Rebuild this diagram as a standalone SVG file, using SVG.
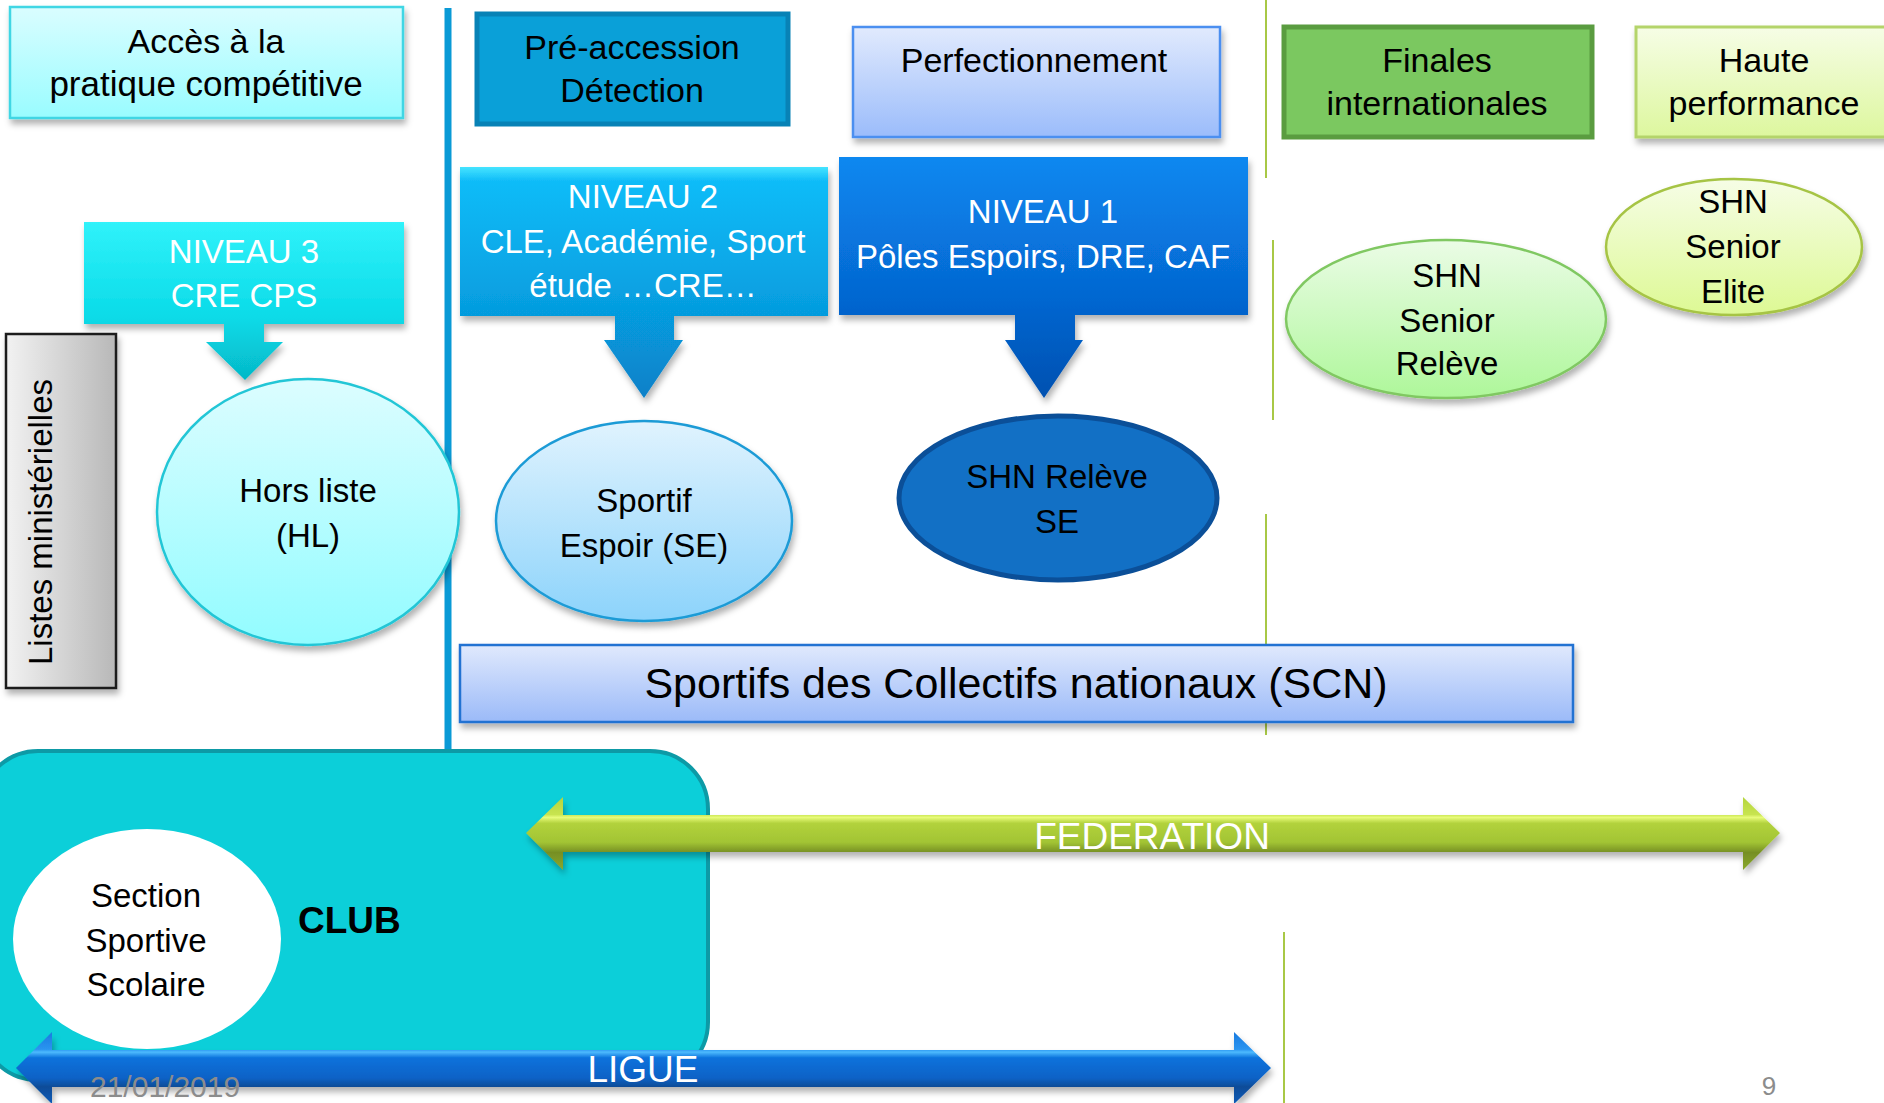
<svg xmlns="http://www.w3.org/2000/svg" width="1884" height="1103" viewBox="0 0 1884 1103">
<defs>
  <filter id="sh" x="-10%" y="-10%" width="120%" height="130%">
    <feDropShadow dx="2" dy="5" stdDeviation="3" flood-color="#000" flood-opacity="0.3"/>
  </filter>
  <linearGradient id="gAcces" x1="0" y1="0" x2="0" y2="1"><stop offset="0" stop-color="#dafdff"/><stop offset="1" stop-color="#99fcff"/></linearGradient>
  <linearGradient id="gPerf" x1="0" y1="0" x2="0" y2="1"><stop offset="0" stop-color="#e1eafd"/><stop offset="1" stop-color="#9bbcfb"/></linearGradient>
  <linearGradient id="gHaute" x1="0" y1="0" x2="0" y2="1"><stop offset="0" stop-color="#f6fde6"/><stop offset="1" stop-color="#ddf79e"/></linearGradient>
  <linearGradient id="gListes" x1="0" y1="0" x2="1" y2="0"><stop offset="0" stop-color="#f2f2f2"/><stop offset="1" stop-color="#b8b8b8"/></linearGradient>
  <linearGradient id="gHL" x1="0" y1="0" x2="0" y2="1"><stop offset="0" stop-color="#dcfdff"/><stop offset="1" stop-color="#92fcff"/></linearGradient>
  <linearGradient id="gSE" x1="0" y1="0" x2="0" y2="1"><stop offset="0" stop-color="#e0f3fe"/><stop offset="1" stop-color="#8cd3fb"/></linearGradient>
  <linearGradient id="gSCN" x1="0" y1="0" x2="0" y2="1"><stop offset="0" stop-color="#e0e9fd"/><stop offset="1" stop-color="#9bbaf8"/></linearGradient>
  <linearGradient id="gSSR" x1="0" y1="0" x2="0" y2="1"><stop offset="0" stop-color="#ebfce6"/><stop offset="1" stop-color="#aef79a"/></linearGradient>
  <linearGradient id="gSSE" x1="0" y1="0" x2="0" y2="1"><stop offset="0" stop-color="#f6fde6"/><stop offset="1" stop-color="#ddf994"/></linearGradient>
  <linearGradient id="gN3" x1="0" y1="0" x2="0" y2="1"><stop offset="0" stop-color="#30f2fa"/><stop offset="0.6" stop-color="#0adbe8"/><stop offset="1" stop-color="#05b8c8"/></linearGradient>
  <linearGradient id="gN2" x1="0" y1="0" x2="0" y2="1"><stop offset="0" stop-color="#45e4ff"/><stop offset="0.06" stop-color="#10bcf8"/><stop offset="0.6" stop-color="#069ee0"/><stop offset="1" stop-color="#0880c8"/></linearGradient>
  <linearGradient id="gN1" x1="0" y1="0" x2="0" y2="1"><stop offset="0" stop-color="#0a88f0"/><stop offset="0.6" stop-color="#0566d0"/><stop offset="1" stop-color="#0550b0"/></linearGradient>
  <linearGradient id="gFed" gradientUnits="userSpaceOnUse" x1="0" y1="797" x2="0" y2="870">
    <stop offset="0" stop-color="#b4d43e"/><stop offset="0.24" stop-color="#c8e450"/><stop offset="0.28" stop-color="#e8fb7a"/><stop offset="0.36" stop-color="#b2d23c"/><stop offset="0.62" stop-color="#a2c434"/><stop offset="0.76" stop-color="#768f24"/><stop offset="1" stop-color="#8aa82c"/>
  </linearGradient>
  <linearGradient id="gLig" gradientUnits="userSpaceOnUse" x1="0" y1="1032" x2="0" y2="1104">
    <stop offset="0" stop-color="#1a7ae0"/><stop offset="0.24" stop-color="#2a94f0"/><stop offset="0.28" stop-color="#4cbafe"/><stop offset="0.36" stop-color="#0c72dc"/><stop offset="0.64" stop-color="#0a62c6"/><stop offset="0.76" stop-color="#0c4c98"/><stop offset="1" stop-color="#0a5ab8"/>
  </linearGradient>
</defs>
<style>
  text { font-family: "Liberation Sans", Arial, sans-serif; font-size: 33px; fill: #000; text-anchor: middle; }
  .w { fill: #ffffff; }
  .hdr { font-size: 34px; }
  .sep { stroke: #a8c846; stroke-width: 2; fill: none; }
</style>

<g id="separators">
  <line x1="448" y1="8" x2="448" y2="752" stroke="#0a9ad6" stroke-width="7"/>
  <line class="sep" x1="1266" y1="0" x2="1266" y2="178"/>
  <line class="sep" x1="1273" y1="240" x2="1273" y2="420"/>
  <line class="sep" x1="1266" y1="514" x2="1266" y2="735"/>
  <line class="sep" x1="1284" y1="932" x2="1284" y2="1103"/>
</g>

<g id="acces">
  <rect x="10" y="7" width="393" height="111" fill="url(#gAcces)" stroke="#3fd6e4" stroke-width="2.5" filter="url(#sh)"/>
  <text class="hdr" x="206" y="53">Accès à la</text>
  <text class="hdr" x="206" y="96" style="font-size:35px">pratique compétitive</text>
</g>

<g id="preaccession">
  <rect x="477" y="14" width="311" height="110" fill="#0aa0d8" stroke="#0882b6" stroke-width="5"/>
  <text class="hdr" x="632" y="59">Pré-accession</text>
  <text class="hdr" x="632" y="102">Détection</text>
</g>

<g id="perfectionnement">
  <rect x="853" y="27" width="367" height="110" fill="url(#gPerf)" stroke="#4c8ff0" stroke-width="2.5" filter="url(#sh)"/>
  <text class="hdr" x="1034" y="72">Perfectionnement</text>
</g>

<g id="finales">
  <rect x="1284" y="27" width="308" height="110" fill="#7bc860" stroke="#5a9c40" stroke-width="5"/>
  <text class="hdr" x="1437" y="72">Finales</text>
  <text class="hdr" x="1437" y="115">internationales</text>
</g>

<g id="haute">
  <rect x="1636" y="27" width="258" height="110" fill="url(#gHaute)" stroke="#b4d46a" stroke-width="3" filter="url(#sh)"/>
  <text class="hdr" x="1764" y="72">Haute</text>
  <text class="hdr" x="1764" y="115">performance</text>
</g>

<g id="niveau3">
  <path d="M84,222 H404 V324 H264 V342 H283 L245,380 L206,342 H224 V324 H84 Z" fill="url(#gN3)" filter="url(#sh)"/>
  <text class="w" x="244" y="263">NIVEAU 3</text>
  <text class="w" x="244" y="307">CRE CPS</text>
</g>

<g id="niveau2">
  <path d="M460,167 H828 V316 H674 V340 H683 L644,398 L604,340 H615 V316 H460 Z" fill="url(#gN2)" filter="url(#sh)"/>
  <text class="w" x="643" y="208">NIVEAU 2</text>
  <text class="w" x="643" y="253">CLE, Académie, Sport</text>
  <text class="w" x="643" y="297">étude …CRE…</text>
</g>

<g id="niveau1">
  <path d="M839,157 H1248 V315 H1075 V340 H1083 L1044,398 L1005,340 H1015 V315 H839 Z" fill="url(#gN1)" filter="url(#sh)"/>
  <text class="w" x="1043" y="223">NIVEAU 1</text>
  <text class="w" x="1043" y="268">Pôles Espoirs, DRE, CAF</text>
</g>

<g id="listes">
  <rect x="6" y="334" width="110" height="354" fill="url(#gListes)" stroke="#1a1a1a" stroke-width="2.5" filter="url(#sh)"/>
  <text transform="translate(52,522) rotate(-90)" x="0" y="0">Listes ministérielles</text>
</g>

<g id="horsliste">
  <ellipse cx="308" cy="512" rx="151" ry="133" fill="url(#gHL)" stroke="#22c6d6" stroke-width="2.5" filter="url(#sh)"/>
  <text x="308" y="502">Hors liste</text>
  <text x="308" y="547">(HL)</text>
</g>

<g id="sportifespoir">
  <ellipse cx="644" cy="521" rx="148" ry="100" fill="url(#gSE)" stroke="#1d9bd6" stroke-width="2.5" filter="url(#sh)"/>
  <text x="644" y="512">Sportif</text>
  <text x="644" y="557">Espoir (SE)</text>
</g>

<g id="shnreleve">
  <ellipse cx="1058" cy="498" rx="159" ry="82" fill="#1270c5" stroke="#0b4f98" stroke-width="5"/>
  <text x="1057" y="488">SHN Relève</text>
  <text x="1057" y="533">SE</text>
</g>

<g id="shnseniorreleve">
  <ellipse cx="1446" cy="319" rx="160" ry="79" fill="url(#gSSR)" stroke="#80c862" stroke-width="2.5" filter="url(#sh)"/>
  <text x="1447" y="287">SHN</text>
  <text x="1447" y="332">Senior</text>
  <text x="1447" y="375">Relève</text>
</g>

<g id="shnseniorelite">
  <ellipse cx="1734" cy="247" rx="128" ry="68" fill="url(#gSSE)" stroke="#a6c445" stroke-width="2.5" filter="url(#sh)"/>
  <text x="1733" y="213">SHN</text>
  <text x="1733" y="258">Senior</text>
  <text x="1733" y="303">Elite</text>
</g>

<g id="scn">
  <rect x="460" y="645" width="1113" height="77" fill="url(#gSCN)" stroke="#2272d2" stroke-width="2.5" filter="url(#sh)"/>
  <text x="1016" y="698" style="font-size:43px">Sportifs des Collectifs nationaux (SCN)</text>
</g>

<g id="club">
  <rect x="-20" y="751" width="728" height="329" rx="58" ry="58" fill="#0ccfd9" stroke="#0d9aa6" stroke-width="4"/>
  <text x="298" y="933" style="font-size:37px;font-weight:bold;text-anchor:start">CLUB</text>
</g>

<g id="section">
  <ellipse cx="147" cy="939" rx="134" ry="110" fill="#ffffff"/>
  <text x="146" y="907">Section</text>
  <text x="146" y="952">Sportive</text>
  <text x="146" y="996">Scolaire</text>
</g>

<g id="connectors">
  <g id="federation">
    <path d="M526,833 L563,797 V815 H1743 V797 L1780,833 L1743,870 V852 H563 V870 Z" fill="url(#gFed)" filter="url(#sh)"/>
    <text class="w" x="1152" y="849" style="font-size:37px">FEDERATION</text>
  </g>
  <g id="ligue">
    <path d="M16,1068 L52,1032 V1050 H1234 V1032 L1271,1068 L1234,1104 V1087 H52 V1104 Z" fill="url(#gLig)" filter="url(#sh)"/>
    <text class="w" x="643" y="1082" style="font-size:37px">LIGUE</text>
  </g>
</g>

<g id="footer">
  <text x="90" y="1097" style="font-size:30px;fill:#8c8c8c;text-anchor:start">21/01/2019</text>
  <text x="1769" y="1095" style="font-size:26px;fill:#8c8c8c">9</text>
</g>
</svg>
